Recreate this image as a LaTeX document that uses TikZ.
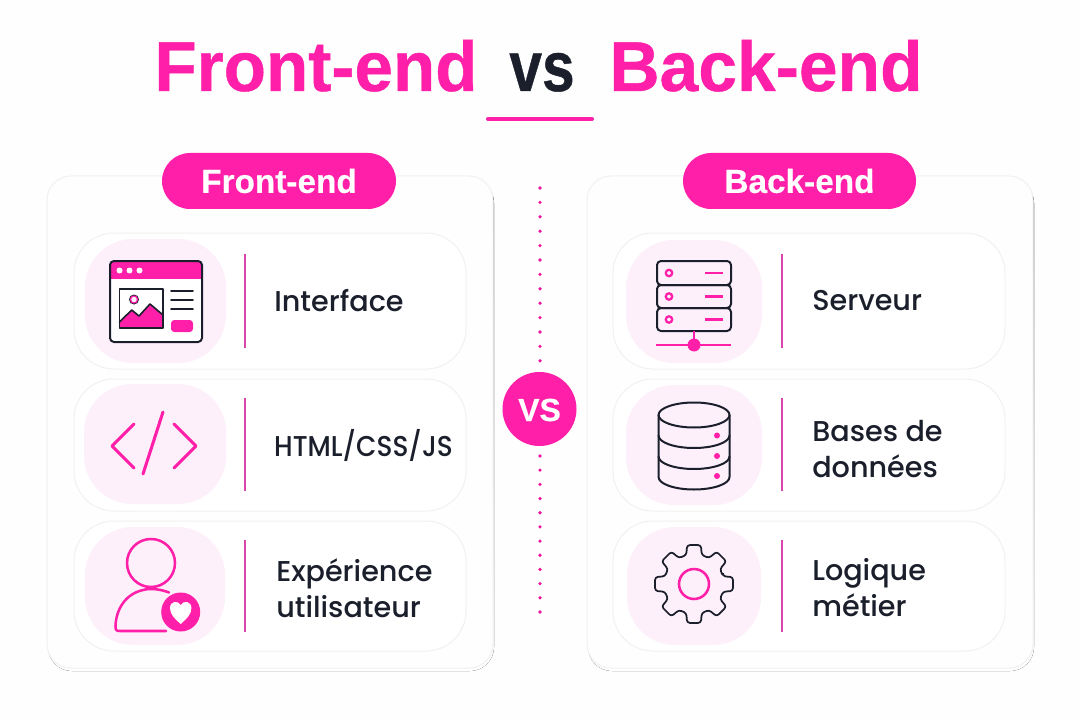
\documentclass[tikz,border=0pt]{standalone}
\usepackage{fontspec}
\setmainfont{Poppins}
\newfontfamily\medf{Poppins Medium}
\newfontfamily\boldf[FakeBold=0.6]{Liberation Sans Bold}
\newfontfamily\boldg[FakeBold=0.3]{Liberation Sans Bold}
\definecolor{pk}{HTML}{FF1FA9}
\definecolor{dot}{HTML}{EE14A0}
\definecolor{dk}{HTML}{1A1F2B}
\definecolor{blob}{HTML}{FDF0FA}
\definecolor{sep}{HTML}{DB45AE}
\definecolor{bg}{HTML}{FEFEFE}
\definecolor{card}{HTML}{FEFEFE}
\definecolor{edge}{HTML}{F2F1F2}
\definecolor{shade}{HTML}{FAF9FA}
\tikzset{
  x=0.75pt,y=-0.75pt,
  panel/.style={draw=edge,line width=0.75pt,fill=card,rounded corners=18pt},
  rowbox/.style={draw=edge,line width=0.75pt,fill=white,rounded corners=30pt},
  blobbox/.style={fill=blob,rounded corners=36pt},
  pill/.style={fill=pk,rounded corners=21pt},
  sepline/.style={draw=sep,line width=1pt},
  ink/.style={draw=dk,line width=1.5pt,line join=round,line cap=round},
  pinkline/.style={draw=pk,line width=1.9pt,line join=round,line cap=round},
  lab/.style={font=\medf\fontsize{21.5pt}{27pt}\selectfont,text=dk,anchor=west,inner sep=0pt,align=left},
  title/.style={font=\boldf\fontsize{53pt}{60pt}\selectfont,inner sep=0pt,anchor=base,transform shape},
  pilltext/.style={font=\boldg\fontsize{25pt}{30pt}\selectfont,text=white,inner sep=0pt}
}
\begin{document}
\begin{tikzpicture}
\useasboundingbox (0,0) rectangle (1080,720);
\fill[bg] (0,0) rectangle (1080,720);
% title
\node[title,text=pk,xscale=.98] (t1) at (316,91) {Front-end};
\node[title,text=dk,xscale=.83] (t2) at (542,91) {vs};
\node[title,text=pk,xscale=.985] (t3) at (766,91) {Back-end};
\draw[draw=pk,line width=3pt,line cap=round] (488,119) -- (592,119);
% panels
\fill[shade,rounded corners=18pt] (48,179) rectangle (494,671);
\fill[shade,rounded corners=18pt] (588,179) rectangle (1034,671);
\path[panel] (47,176) rectangle (493,668);
\path[panel] (587,176) rectangle (1033,668);
\path[pill] (162,153) rectangle (396,209);
\path[pill] (683,153) rectangle (916,209);
\node[pilltext] (p1) at (279,181) {Front-end};
\node[pilltext] (p2) at (799.5,181) {Back-end};
% rows
\foreach \xa/\xb in {74/466,613/1005}{
  \path[rowbox] (\xa,233) rectangle (\xb,369);
  \path[rowbox] (\xa,379) rectangle (\xb,511);
  \path[rowbox] (\xa,521) rectangle (\xb,651);
}
% blobs
\path[blobbox] (85,239) rectangle (226,363);
\path[blobbox] (84,384) rectangle (226,504);
\path[blobbox] (85,527) rectangle (225,645);
\path[blobbox] (626,240) rectangle (762,363);
\path[blobbox] (626,385) rectangle (762,505);
\path[blobbox] (627,527) rectangle (761,645);
% separators
\foreach \xx in {245,782}{
  \draw[sepline] (\xx,254) -- (\xx,348);
  \draw[sepline] (\xx,398) -- (\xx,491);
  \draw[sepline] (\xx,540) -- (\xx,632);
}
% labels
\node[lab] (l1) at (274,301) {Interface};
\node[lab,transform shape,xscale=.92] (l2) at (274,445) {HTML/CSS/JS};
\node[lab] (l3) at (276,588) {Expérience\\utilisateur};
\node[lab] (r1) at (812,301) {Serveur};
\node[lab] (r2) at (812,449) {Bases de\\données};
\node[lab] (r3) at (812,588) {Logique\\métier};
% centre dots
\foreach \yy in {188,202.4,...,362}{\fill[dot] (540,\yy) circle[radius=1.8];}
\foreach \yy in {456,470.18,...,613}{\fill[dot] (540,\yy) circle[radius=1.8];}
\fill[pk] (539.5,409) circle[radius=37];
\node[font=\boldg\fontsize{24pt}{28pt}\selectfont,text=white,inner sep=0pt] (vs) at (539.5,410) {VS};
% window icon
\fill[white,rounded corners=3pt] (110,261) rectangle (202,342);
\fill[pk,rounded corners=3pt] (110,261) rectangle (202,275);
\fill[pk] (110,270) rectangle (202,279);
\draw[ink,rounded corners=3pt] (110,261) rectangle (202,342);
\foreach \xx in {119.5,129.5,139.5}{\fill[white] (\xx,270.5) circle[radius=3];}
\fill[white] (119.5,289) rectangle (163,328);
\fill[pk] (119.5,322) -- (131.7,310) -- (139,316) -- (150,304) -- (163,315) -- (163,328) -- (119.5,328) -- cycle;
\draw[ink,line width=1.2pt] (119.5,322) -- (131.7,310) -- (139,316) -- (150,304) -- (163,315);
\draw[ink,line width=1.3pt] (119.5,289) rectangle (163,328);
\fill[dk] (134,299.5) circle[radius=5];
\fill[pk] (134,299.5) circle[radius=4.2];
\fill[blob] (134,299.5) circle[radius=2.7];
\foreach \yy in {291,300,309}{\draw[ink,line width=1.2pt] (171,\yy) -- (193,\yy);}
\fill[pk,rounded corners=2.5pt] (171,320) rectangle (193,332);
% code icon
\draw[pinkline,line width=2.3pt] (134,424) -- (112,446) -- (134,468);
\draw[pinkline,line width=2.3pt] (174,424) -- (196,446) -- (174,468);
\draw[pinkline,line width=2.3pt] (163,412) -- (143,474);
% user icon
\draw[pinkline] (151,563) circle[radius=24];
\draw[pinkline] (169,592.5) .. controls (160,589) and (150,588) .. (143,590)
  .. controls (125,594) and (116,610) .. (115.5,626) .. controls (115.5,630) and (116,631) .. (120,631) -- (166,631);
\fill[pk] (180.7,612) circle[radius=19.5];
\fill[white] (180.7,624) .. controls (174,618) and (170,614) .. (170,608)
  .. controls (170,601) and (178,600) .. (180.7,605)
  .. controls (183.4,600) and (191.4,601) .. (191.4,608)
  .. controls (191.4,614) and (187.4,618) .. (180.7,624) -- cycle;
% server icon
\foreach \ya/\yb in {261/285,285/308,308/331}{
  \draw[ink,rounded corners=3pt] (657,\ya) rectangle (731,\yb);
}
\foreach \yy in {273,296.5,319.5}{
  \draw[draw=pk,line width=1.7pt] (669,\yy) circle[radius=3.2];
  \draw[draw=pk,line width=1.8pt] (705,\yy) -- (723,\yy);
}
\draw[draw=pk,line width=1.7pt] (694,331) -- (694,345);
\draw[draw=pk,line width=1.7pt] (656,345) -- (731,345);
\fill[pk] (694,345) circle[radius=6.5];
% database icon
\draw[ink] (658.5,415) -- (658.5,477) arc[start angle=180,end angle=0,x radius=35.5,y radius=12.5] -- (729.5,415);
\draw[ink] (694,415) ellipse[x radius=35.5,y radius=12.5];
\draw[ink] (658.5,435.5) arc[start angle=180,end angle=0,x radius=35.5,y radius=12.5];
\draw[ink] (658.5,456.5) arc[start angle=180,end angle=0,x radius=35.5,y radius=12.5];
\foreach \yy in {435.5,456,476}{\fill[pk] (717,\yy) circle[radius=3];}
% gear icon
\draw[ink,line width=1.3pt,rounded corners=2pt,shift={(694,584)}]
  (-15:30) foreach \a in {0,45,...,315}{ -- (\a-15:30) -- (\a-10:39.5) -- (\a+10:39.5) -- (\a+15:30)} -- cycle;
\draw[draw=pk,line width=1.9pt] (694,584) circle[radius=15];
\end{tikzpicture}
\end{document}
